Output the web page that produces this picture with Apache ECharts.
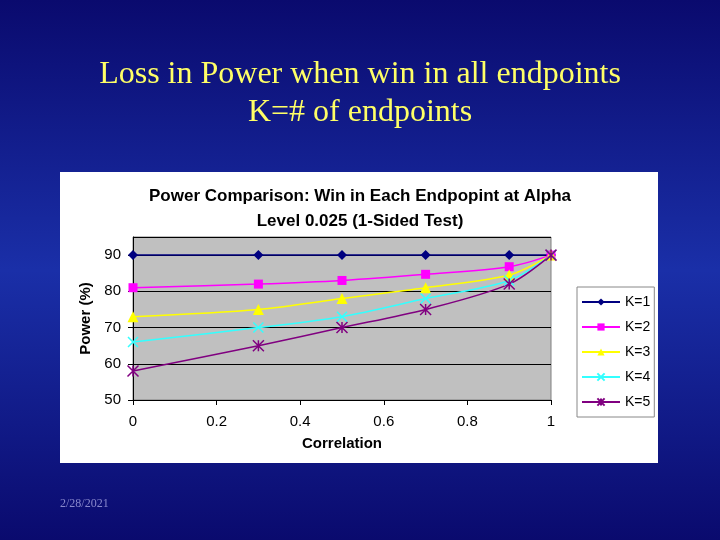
<!DOCTYPE html>
<html>
<head>
<meta charset="UTF-8">
<script src="https://cdn.jsdelivr.net/npm/echarts@6/dist/echarts.min.js"></script>
<style>body{margin:0}#c{width:720px;height:540px}</style>
</head>
<body>
<div id="c"></div>
<script>
var corr = [0, 0.3, 0.5, 0.7, 0.9, 1];
var k1 = [90, 90, 90, 90, 90, 90];
var k2 = [81, 82, 83, 84.7, 86.8, 90];
var k3 = [73, 75, 78, 81, 84.5, 90];
var k4 = [66, 70, 73, 78, 83, 90];
var k5 = [58, 65, 70, 75, 82, 90];
var names = ['K=1', 'K=2', 'K=3', 'K=4', 'K=5'];
var colors = ['#000080', '#ff00ff', '#ffff00', '#33ffff', '#800080'];
var symbols = ['diamond', 'rect', 'triangle',
  'path://M0,0L10,10M10,0L0,10',
  'path://M0,0L10,10M10,0L0,10M5,0L5,10'];
var sizes = [10, 9, 11, 10, 11];

function pts(v) { return corr.map(function (x, i) { return [x, v[i]]; }); }

var chart = echarts.init(document.getElementById('c'));
chart.setOption({
    animation: false,
    backgroundColor: new echarts.graphic.LinearGradient(0, 0, 0, 1, [
        {offset: 0, color: '#0a0a6e'}, {offset: 0.5, color: '#1a2fa8'}, {offset: 1, color: '#0a0a6e'}]),
    graphic: [
        {type: 'rect', left: 60, top: 172, shape: {width: 598, height: 291}, style: {fill: '#fff'}, z: -1},
        {type: 'text', style: {x: 360, y: 56, text: 'Loss in Power when win in all endpoints\nK=# of endpoints',
            fill: '#ffff66', font: '32px "Liberation Serif"', textAlign: 'center', lineHeight: 38}},
        {type: 'text', style: {x: 60, y: 498, text: '2/28/2021', fill: '#8888cc', font: '12px "Liberation Serif"'}},
        {type: 'text', style: {x: 360, y: 184, text: 'Power Comparison: Win in Each Endpopint at Alpha\nLevel 0.025 (1-Sided Test)',
            fill: '#000', font: 'bold 17px "Liberation Sans"', textAlign: 'center', lineHeight: 25}}
    ],
    grid: {left: 133, right: 169, top: 237, bottom: 140, show: true, backgroundColor: '#c0c0c0', borderColor: '#808080'},
    xAxis: {type: 'value', min: 0, max: 1, interval: 0.2, name: 'Correlation', nameLocation: 'middle', nameGap: 36,
        nameTextStyle: {fontWeight: 'bold', fontSize: 15, color: '#000', fontFamily: 'Liberation Sans'},
        axisLine: {lineStyle: {color: '#000'}}, axisTick: {show: true, inside: false},
        splitLine: {show: false},
        axisLabel: {color: '#000', fontSize: 15, fontFamily: 'Liberation Sans', margin: 14}},
    yAxis: {type: 'value', min: 50, max: 95, interval: 10, name: 'Power (%)', nameLocation: 'middle', nameGap: 40,
        nameTextStyle: {fontWeight: 'bold', fontSize: 15, color: '#000', fontFamily: 'Liberation Sans'},
        axisLine: {show: true, lineStyle: {color: '#000'}}, axisTick: {show: true},
        splitLine: {lineStyle: {color: '#000', width: 1}},
        axisLabel: {color: '#000', fontSize: 15, fontFamily: 'Liberation Sans', showMaxLabel: false, margin: 12}},
    legend: {orient: 'vertical', left: 577, top: 287, itemGap: 11, padding: [8, 4],
        borderColor: '#888', borderWidth: 1, backgroundColor: '#fff', itemWidth: 38, itemHeight: 9,
        textStyle: {fontSize: 14, color: '#000', fontFamily: 'Liberation Sans'}, data: names},
    series: [k1, k2, k3, k4, k5].map(function (v, i) {
        return {name: names[i], type: 'line', smooth: 0.3, data: pts(v),
            symbol: symbols[i], symbolSize: sizes[i],
            lineStyle: {color: colors[i], width: 1.5},
            itemStyle: {color: colors[i], borderColor: colors[i], borderWidth: i >= 3 ? 1.5 : 0}};
    })
});
</script>
</body>
</html>
